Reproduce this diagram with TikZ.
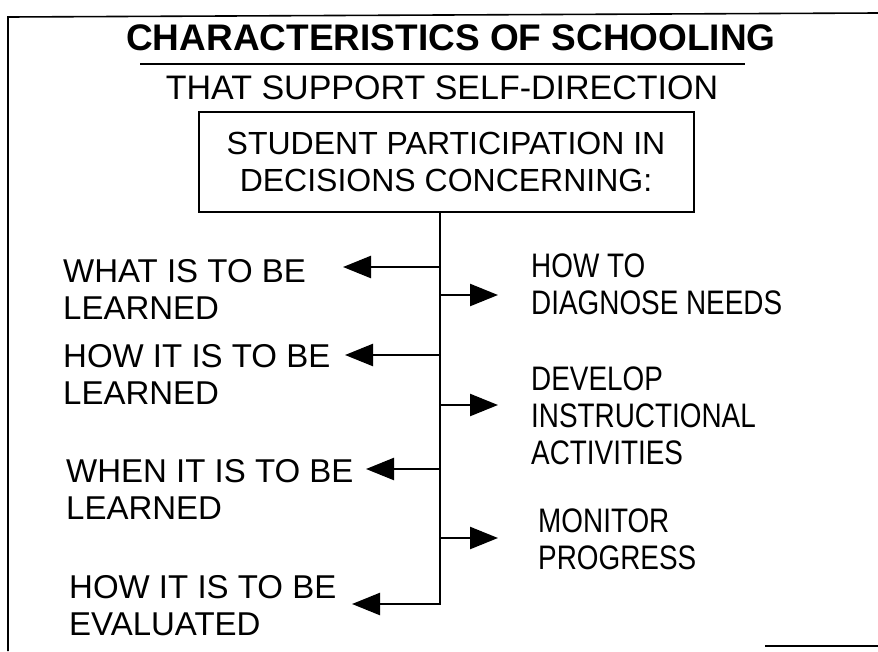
\documentclass[tikz,border=0pt]{standalone}
\usepackage{fontspec}
\setmainfont{Liberation Sans}
\newfontfamily\narrowfont[FakeStretch=0.82]{Liberation Sans}
\usetikzlibrary{arrows.meta}

\begin{document}
\begin{tikzpicture}[x=1pt, y=-1pt, line width=2.4pt,
    arr/.style={-{Triangle[length=28pt,width=22pt]}},
    item/.style={anchor=west, align=left, inner sep=0pt, font=\fontsize{33}{37}\selectfont},
    ritem/.style={item, font=\narrowfont\fontsize{34}{37}\selectfont}]
  \useasboundingbox (0,0) rectangle (878,651);
  % frame
  \draw[line width=1.6pt] (8,651) -- (8,17) -- (878,13);
  \draw[line width=1.6pt] (765,646) -- (878,646);
  % heading
  \node[inner sep=0pt, font=\fontsize{37}{40}\selectfont\bfseries] (title) at (451,38) {CHARACTERISTICS OF SCHOOLING};
  \draw[line width=1.6pt] (140,64) -- (745,64);
  \node[inner sep=0pt, font=\fontsize{34}{38}\selectfont] (sub) at (442,88) {THAT SUPPORT SELF-DIRECTION};
  \node[draw, line width=2pt, minimum width=495pt, minimum height=100pt, align=center,
    font=\fontsize{32}{37}\selectfont] (box) at (446,162) {STUDENT PARTICIPATION IN\\DECISIONS CONCERNING:};
  % left side
  \node[item] (what) at (62,289) {WHAT IS TO BE\\LEARNED};
  \node[item] (howl) at (62,374) {HOW IT IS TO BE\\LEARNED};
  \node[item] (when) at (65,489) {WHEN IT IS TO BE\\LEARNED};
  \node[item] (howe) at (68,606) {HOW IT IS TO BE\\EVALUATED};
  % right side
  \node[ritem] (diag) at (530,284) {HOW TO\\DIAGNOSE NEEDS};
  \node[ritem] (devel) at (530,416) {DEVELOP\\INSTRUCTIONAL\\ACTIVITIES};
  \node[ritem] (monit) at (537,539) {MONITOR\\PROGRESS};
  % trunk and arrows
  \coordinate (bend) at (440,604);
  \coordinate (l4) at (352,604);
  \draw[arr] (box.south -| bend) -- (bend) -- (l4);
  \foreach \y/\x [count=\i] in {267/343, 355/345, 469/366}
    {\coordinate (l\i) at (\x,\y);
     \draw[arr] (bend |- l\i) -- (l\i);}
  \foreach \y [count=\i] in {295, 405, 538}
    {\coordinate (r\i) at (498,\y);
     \draw[arr] (bend |- r\i) -- (r\i);}
\end{tikzpicture}
\end{document}
